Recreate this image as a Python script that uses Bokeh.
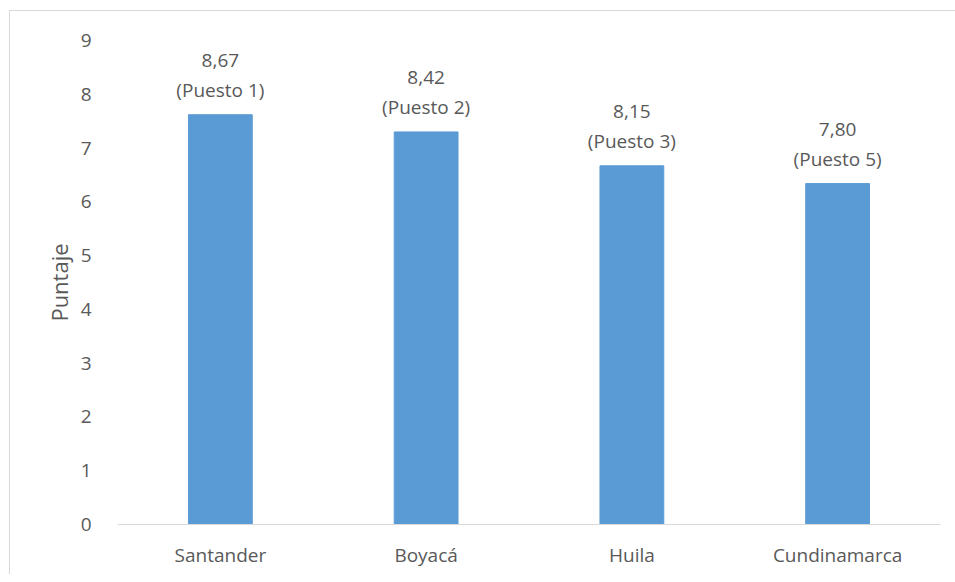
from bokeh.plotting import figure
from bokeh.layouts import column
from bokeh.models import ColumnDataSource, Range1d, FactorRange
from bokeh.core.properties import value
from bokeh.embed import file_html
from bokeh.resources import INLINE

departamentos = ["Santander", "Boyacá", "Huila", "Cundinamarca"]
alturas = [7.62, 7.30, 6.67, 6.34]
valores = ["8,67", "8,42", "8,15", "7,80"]
puestos = ["(Puesto 1)", "(Puesto 2)", "(Puesto 3)", "(Puesto 5)"]

FONT = "Open Sans"
TXT = "#595959"
FS = "19px"

src = ColumnDataSource(dict(x=departamentos, top=alturas, val=valores, pos=puestos))

p = figure(width=945, height=563, x_range=FactorRange(*departamentos, range_padding=0),
           y_range=Range1d(0, 9), output_backend="svg", toolbar_location=None,
           min_border_left=107, min_border_right=15, min_border_top=29, min_border_bottom=50)

p.vbar(x="x", top="top", width=0.31, source=src, color="#5B9BD5")

p.text(x="x", y="top", text="val", source=src, y_offset=-54, text_align="center",
       text_baseline="middle", text_font=value(FONT), text_font_size=FS, text_color=TXT)
p.text(x="x", y="top", text="pos", source=src, y_offset=-25, text_align="center",
       text_baseline="middle", text_font=value(FONT), text_font_size=FS, text_color=TXT)

p.xgrid.grid_line_color = None
p.ygrid.grid_line_color = None
p.outline_line_color = None

p.yaxis.axis_line_color = None
p.yaxis.major_tick_line_color = None
p.yaxis.minor_tick_line_color = None
p.yaxis.major_label_standoff = 20
p.yaxis.ticker = [0, 1, 2, 3, 4, 5, 6, 7, 8, 9]
p.yaxis.axis_label = "Puntaje"
p.yaxis.axis_label_standoff = 4
p.yaxis.axis_label_text_font_style = "normal"

p.xaxis.axis_line_color = "#d9d9d9"
p.xaxis.major_tick_line_color = None
p.xaxis.minor_tick_line_color = None
p.xaxis.major_label_standoff = 11

for ax in (p.xaxis, p.yaxis):
    ax.major_label_text_font = FONT
    ax.major_label_text_font_size = FS
    ax.major_label_text_color = TXT
    ax.axis_label_text_font = FONT
    ax.axis_label_text_color = TXT
p.yaxis.axis_label_text_font_size = "22px"

p.background_fill_color = "white"
p.border_fill_color = "white"

layout = column(p, styles={"margin-left": "9px", "margin-top": "10px",
                           "border-left": "1px solid #d9d9d9",
                           "border-top": "1px solid #d9d9d9"})

open("out.html", "w").write(file_html(layout, INLINE))
